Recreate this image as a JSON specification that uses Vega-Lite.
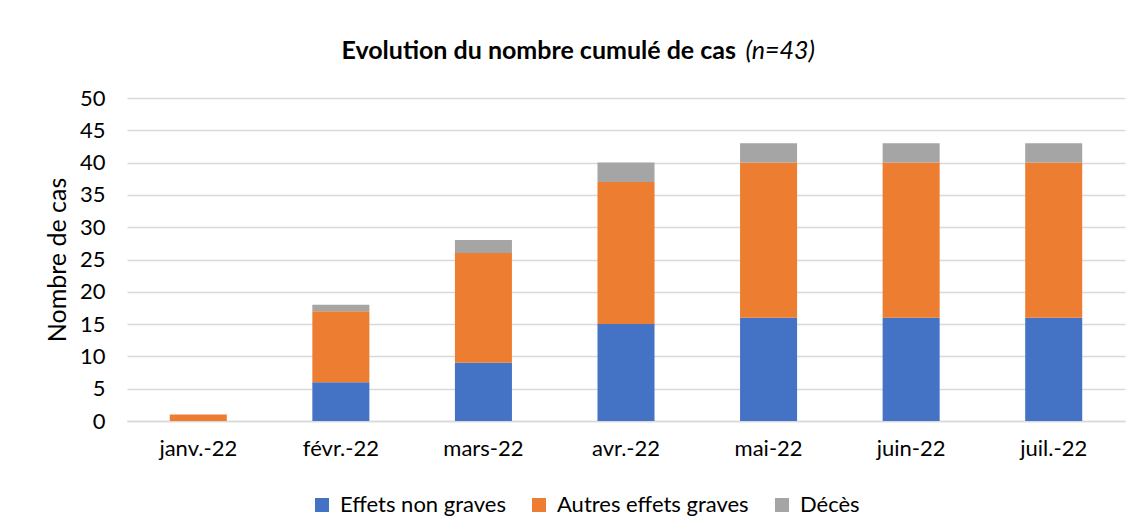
{
  "$schema": "https://vega.github.io/schema/vega-lite/v6.json",
  "width": 998,
  "height": 323,
  "autosize": {"type": "none"},
  "padding": {"left": 127, "top": 98, "right": 14, "bottom": 107},
  "background": "white",
  "title": {
    "text": "Evolution du nombre cumulé de cas\u00a0\u00a0\u00a0\u00a0\u00a0\u00a0\u00a0\u00a0\u00a0\u00a0\u00a0\u00a0\u00a0\u200b",
    "subtitle": "(n=43)",
    "anchor": "end",
    "dx": -310,
    "offset": 23,
    "font": "Lato",
    "fontSize": 25,
    "fontWeight": "bold",
    "color": "#000000",
    "subtitleFont": "Lato",
    "subtitleFontSize": 25,
    "subtitleFontStyle": "italic",
    "subtitleColor": "#000000",
    "subtitlePadding": -25
  },
  "data": {
    "values": [
      {"mois": "janv.-22", "type": "Effets non graves", "ord": 1, "n": 0},
      {"mois": "janv.-22", "type": "Autres effets graves", "ord": 2, "n": 1},
      {"mois": "janv.-22", "type": "Décès", "ord": 3, "n": 0},
      {"mois": "févr.-22", "type": "Effets non graves", "ord": 1, "n": 6},
      {"mois": "févr.-22", "type": "Autres effets graves", "ord": 2, "n": 11},
      {"mois": "févr.-22", "type": "Décès", "ord": 3, "n": 1},
      {"mois": "mars-22", "type": "Effets non graves", "ord": 1, "n": 9},
      {"mois": "mars-22", "type": "Autres effets graves", "ord": 2, "n": 17},
      {"mois": "mars-22", "type": "Décès", "ord": 3, "n": 2},
      {"mois": "avr.-22", "type": "Effets non graves", "ord": 1, "n": 15},
      {"mois": "avr.-22", "type": "Autres effets graves", "ord": 2, "n": 22},
      {"mois": "avr.-22", "type": "Décès", "ord": 3, "n": 3},
      {"mois": "mai-22", "type": "Effets non graves", "ord": 1, "n": 16},
      {"mois": "mai-22", "type": "Autres effets graves", "ord": 2, "n": 24},
      {"mois": "mai-22", "type": "Décès", "ord": 3, "n": 3},
      {"mois": "juin-22", "type": "Effets non graves", "ord": 1, "n": 16},
      {"mois": "juin-22", "type": "Autres effets graves", "ord": 2, "n": 24},
      {"mois": "juin-22", "type": "Décès", "ord": 3, "n": 3},
      {"mois": "juil.-22", "type": "Effets non graves", "ord": 1, "n": 16},
      {"mois": "juil.-22", "type": "Autres effets graves", "ord": 2, "n": 24},
      {"mois": "juil.-22", "type": "Décès", "ord": 3, "n": 3}
    ]
  },
  "mark": {"type": "bar"},
  "encoding": {
    "x": {
      "field": "mois",
      "type": "nominal",
      "sort": null,
      "scale": {"paddingInner": 0.6, "paddingOuter": 0.3},
      "axis": {
        "title": null,
        "labelAngle": 0,
        "labelFont": "Lato",
        "labelFontSize": 22,
        "labelColor": "#000000",
        "labelPadding": 17,
        "ticks": false,
        "domainColor": "#d9d9d9",
        "domainWidth": 1.5
      }
    },
    "y": {
      "field": "n",
      "type": "quantitative",
      "stack": "zero",
      "scale": {"domain": [0, 50], "nice": false},
      "axis": {
        "title": "Nombre de cas",
        "titleFont": "Lato",
        "titleFontSize": 25,
        "titleFontWeight": "normal",
        "titleColor": "#000000",
        "titlePadding": 9,
        "values": [0, 5, 10, 15, 20, 25, 30, 35, 40, 45, 50],
        "labelFont": "Lato",
        "labelFontSize": 22,
        "labelColor": "#000000",
        "labelPadding": 22,
        "ticks": false,
        "domain": false,
        "grid": true,
        "gridColor": "#d9d9d9",
        "gridWidth": 1.5
      }
    },
    "color": {
      "field": "type",
      "type": "nominal",
      "scale": {
        "domain": ["Effets non graves", "Autres effets graves", "Décès"],
        "range": ["#4472C4", "#ED7D31", "#A5A5A5"]
      },
      "legend": {
        "title": null,
        "orient": "none",
        "legendX": 184,
        "legendY": 396,
        "direction": "horizontal",
        "symbolType": "square",
        "symbolSize": 196,
        "symbolStrokeWidth": 0,
        "labelFont": "Lato",
        "labelFontSize": 22,
        "labelColor": "#000000",
        "labelLimit": 400,
        "columnPadding": 22,
        "labelOffset": 7
      }
    },
    "order": {"field": "ord", "type": "quantitative"}
  },
  "config": {"view": {"stroke": null}}
}
